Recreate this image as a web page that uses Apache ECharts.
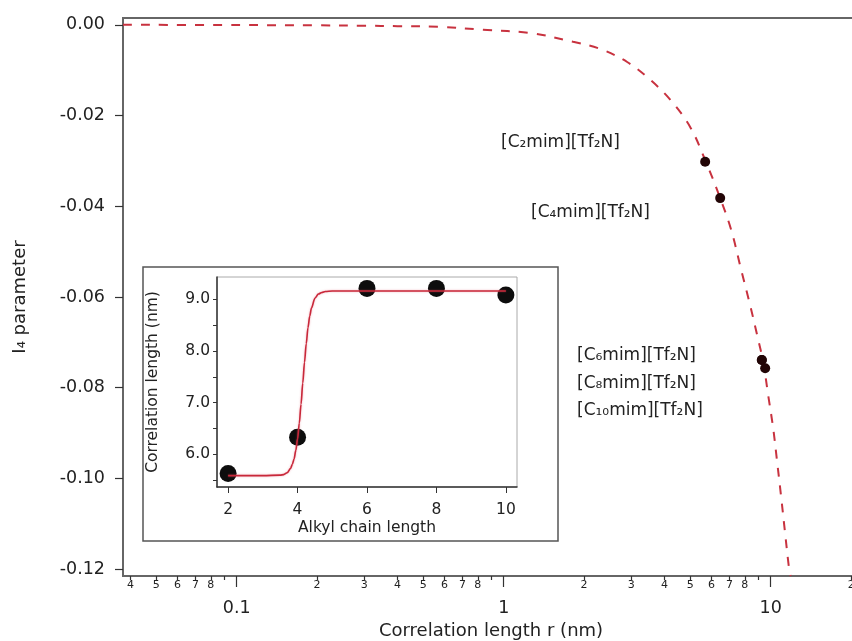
<!DOCTYPE html>
<html>
<head>
<meta charset="utf-8">
<script src="https://cdn.jsdelivr.net/npm/echarts@6/dist/echarts.min.js"></script>
<style>
html, body { margin: 0; padding: 0; background: #fff; }
#main { width: 852px; height: 641px; }
</style>
</head>
<body>
<div id="main"></div>
<script>
// main dashed curve: correlation length r (nm) vs I4 parameter
var curveR = [0.0375, 0.1, 0.2, 0.3, 0.4, 0.578, 0.837, 1.256, 1.819, 2.296, 2.899, 3.535, 4.201, 4.99, 5.68, 6.465, 7.109, 7.748, 8.371, 8.893, 9.365, 9.779, 10.21, 10.57, 10.94, 11.32, 11.72, 11.87];
var curveI = [0, -0.00005, -0.00012, -0.0002, -0.0003, -0.00044, -0.0011, -0.0018, -0.00375, -0.0053, -0.0082, -0.0121, -0.0165, -0.0225, -0.0298, -0.0382, -0.0452, -0.054, -0.0618, -0.0684, -0.0743, -0.0816, -0.0889, -0.0964, -0.1041, -0.1121, -0.12, -0.1215];

// ionic liquids marked on the curve
var ilNames = ['[C₂mim][Tf₂N]', '[C₄mim][Tf₂N]', '[C₆mim][Tf₂N]', '[C₈mim][Tf₂N]', '[C₁₀mim][Tf₂N]'];
var ilR = [5.68, 6.465, 9.26, 9.26, 9.53];
var ilI = [-0.0302, -0.0382, -0.0739, -0.0739, -0.0757];

// inset: correlation length vs alkyl chain length
var chainLen = [2, 4, 6, 8, 10];
var corrLen = [5.63, 6.33, 9.21, 9.21, 9.08];
var fitChain = [2, 3, 3.5, 3.6, 3.7, 3.8, 3.85, 3.9, 3.95, 4.0, 4.05, 4.1, 4.15, 4.2, 4.25, 4.3, 4.35, 4.4, 4.5, 4.6, 4.7, 4.8, 5, 6, 8, 10];
var fitCorr = [5.59, 5.59, 5.6, 5.61, 5.645, 5.73, 5.81, 5.91, 6.08, 6.3, 6.6, 6.97, 7.38, 7.78, 8.14, 8.45, 8.67, 8.83, 9.02, 9.1, 9.13, 9.15, 9.16, 9.16, 9.16, 9.16];

// ticks
var yTicks = [-0.12, -0.10, -0.08, -0.06, -0.04, -0.02, 0];
var minorTickR = [0.04, 0.05, 0.06, 0.07, 0.08, 0.09, 0.2, 0.3, 0.4, 0.5, 0.6, 0.7, 0.8, 0.9, 2, 3, 4, 5, 6, 7, 8, 9, 20];
var minorLabelR = [0.04, 0.05, 0.06, 0.07, 0.08, 0.2, 0.3, 0.4, 0.5, 0.6, 0.7, 0.8, 2, 3, 4, 5, 6, 7, 8, 20];
var majorTickR = [0.1, 1, 10];
var insetXTicks = [2, 4, 6, 8, 10];
var insetYLabels = [6, 7, 8, 9];
var insetYTicks = [5.5, 6, 6.5, 7, 7.5, 8, 8.5, 9];

var FONT = 'DejaVu Sans';
var TXT = '#222';

var chart = echarts.init(document.getElementById('main'), null, { renderer: 'canvas' });

function lg(v) { return Math.log10(v); }

var mainLine = curveR.map(function (r, i) { return [lg(r), curveI[i]]; });
var mainPts = ilR.map(function (r, i) { return [lg(r), ilI[i]]; });
var insetLine = fitChain.map(function (c, i) { return [c, fitCorr[i]]; });
var insetPts = chainLen.map(function (c, i) { return [c, corrLen[i]]; });

var labelY = [143, 213, 356, 384, 411];
var labelX = [501, 531, 577, 577, 577];

var option = {
  animation: false,
  backgroundColor: '#fff',
  grid: [
    { left: 123, width: 754, top: 18, bottom: 65, show: true, borderColor: '#666', borderWidth: 2, containLabel: false, outerBoundsMode: 'none' },
    { left: 217, top: 277, width: 300, height: 210, show: true, borderColor: '#aaa', borderWidth: 1, containLabel: false, outerBoundsMode: 'none' }
  ],
  xAxis: [
    {
      type: 'value', gridIndex: 0, position: 'bottom',
      min: lg(0.0375), max: lg(25),
      axisLine: { show: false, onZero: false },
      splitLine: { show: false },
      axisTick: { show: true, inside: false, length: 4, customValues: minorTickR.map(lg), lineStyle: { color: '#333', width: 1.2 } },
      axisLabel: {
        customValues: minorLabelR.map(lg), margin: 4, fontSize: 11, color: TXT, fontFamily: FONT,
        formatter: function (v) {
          var d = Math.pow(10, Math.floor(v + 1e-9));
          return String(Math.round(Math.pow(10, v) / d));
        }
      }
    },
    {
      type: 'value', gridIndex: 0, position: 'bottom',
      min: lg(0.0375), max: lg(25),
      axisLine: { show: false, onZero: false },
      splitLine: { show: false },
      axisTick: { show: true, inside: false, length: 11, customValues: majorTickR.map(lg), lineStyle: { color: '#333', width: 1.2 } },
      axisLabel: {
        customValues: majorTickR.map(lg), margin: 23, fontSize: 17.5, color: TXT, fontFamily: FONT,
        formatter: function (v) { return String(Number(Math.pow(10, v).toPrecision(1))); }
      },
      name: 'Correlation length r (nm)', nameLocation: 'middle', nameGap: 45,
      nameTextStyle: { fontSize: 18, color: TXT, fontFamily: FONT, padding: [0, 18, 0, 0] }
    },
    {
      type: 'value', gridIndex: 1, min: 1.68, max: 10.32,
      axisLine: { show: true, onZero: false, lineStyle: { color: '#333', width: 1.5 } },
      splitLine: { show: false },
      axisTick: { show: true, inside: false, length: 6, customValues: insetXTicks, lineStyle: { color: '#333' } },
      axisLabel: { customValues: insetXTicks, margin: 15, fontSize: 15.5, color: TXT, fontFamily: FONT },
      name: 'Alkyl chain length', nameLocation: 'middle', nameGap: 33,
      nameTextStyle: { fontSize: 15.5, color: TXT, fontFamily: FONT }
    }
  ],
  yAxis: [
    {
      type: 'value', gridIndex: 0, min: -0.1215, max: 0.0015,
      axisLine: { show: false, onZero: false },
      splitLine: { show: false },
      axisTick: { show: true, inside: false, length: 8, customValues: yTicks, lineStyle: { color: '#333', width: 1.2 } },
      axisLabel: {
        customValues: yTicks, margin: 18, fontSize: 17.5, color: TXT, fontFamily: FONT,
        formatter: function (v) { return v.toFixed(2); }
      },
      name: 'I₄ parameter', nameLocation: 'middle', nameGap: 94,
      nameTextStyle: { fontSize: 18, color: TXT, fontFamily: FONT }
    },
    {
      type: 'value', gridIndex: 1, min: 5.37, max: 9.43,
      axisLine: { show: true, onZero: false, lineStyle: { color: '#333', width: 1.5 } },
      splitLine: { show: false },
      axisTick: { show: true, inside: false, length: 4, customValues: insetYTicks, lineStyle: { color: '#333' } },
      axisLabel: {
        customValues: insetYLabels, margin: 7, fontSize: 15.5, color: TXT, fontFamily: FONT,
        formatter: function (v) { return v.toFixed(1); }
      },
      name: 'Correlation length (nm)', nameLocation: 'middle', nameGap: 56,
      nameTextStyle: { fontSize: 15.5, color: TXT, fontFamily: FONT }
    }
  ],
  graphic: [
    {
      type: 'rect', z: 1,
      shape: { x: 143, y: 267, width: 415, height: 274 },
      style: { fill: null, stroke: '#555', lineWidth: 1.5 }
    }
  ].concat(ilNames.map(function (t, i) {
    return {
      type: 'text', x: labelX[i], y: labelY[i],
      style: { text: t, fill: TXT, font: '17px "DejaVu Sans"', textAlign: 'left', textVerticalAlign: 'middle', verticalAlign: 'middle' }
    };
  })),
  series: [
    {
      type: 'line', xAxisIndex: 0, yAxisIndex: 0, data: mainLine,
      showSymbol: false, smooth: 0.35, z: 2,
      lineStyle: { color: '#c8323f', width: 2, type: [9, 9] }
    },
    {
      type: 'scatter', xAxisIndex: 0, yAxisIndex: 0, data: mainPts,
      symbolSize: 10, z: 3,
      itemStyle: { color: '#220506', opacity: 1 }
    },
    {
      type: 'scatter', xAxisIndex: 2, yAxisIndex: 1, data: insetPts,
      symbolSize: 17, z: 3,
      itemStyle: { color: '#0d0d0d', opacity: 1 }
    },
    {
      type: 'line', xAxisIndex: 2, yAxisIndex: 1, data: insetLine,
      showSymbol: false, smooth: 0.3, smoothMonotone: 'x', z: 4,
      lineStyle: { color: '#c8283a', width: 1.6, shadowColor: 'rgba(230,90,110,0.5)', shadowBlur: 2 }
    }
  ]
};

chart.setOption(option);
</script>
</body>
</html>
